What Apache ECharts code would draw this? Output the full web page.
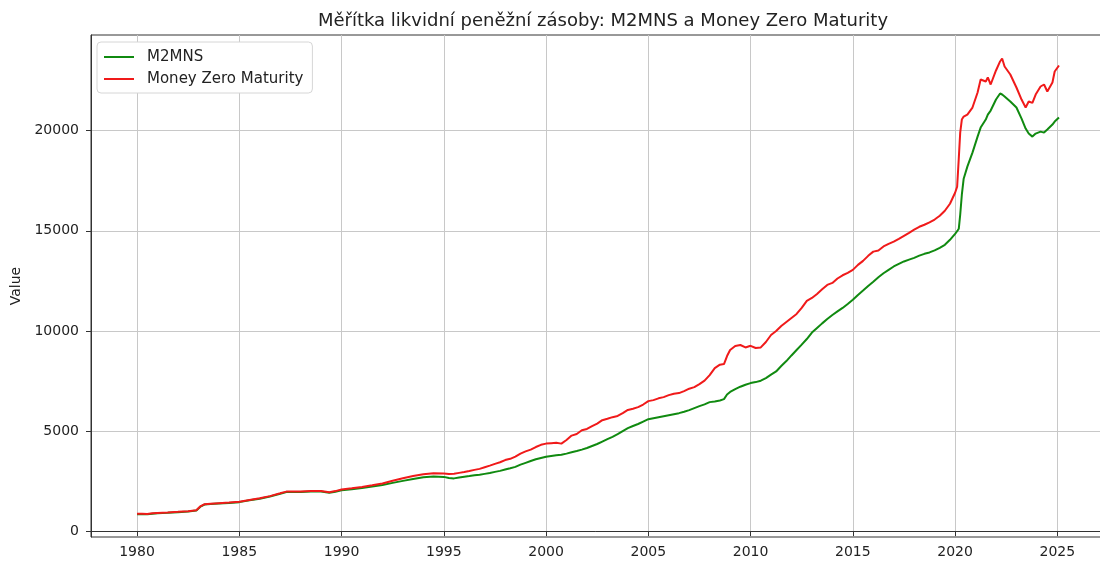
<!DOCTYPE html>
<html>
<head>
<meta charset="utf-8">
<script src="https://cdn.jsdelivr.net/npm/echarts@6/dist/echarts.min.js"></script>
<style>
  html, body { margin: 0; padding: 0; background: #fff; }
  #chart { width: 1100px; height: 564px; }
</style>
</head>
<body>
<div id="chart"></div>
<script>
// decimal years shared by both series
const dates = [
  1980.0, 1980.25, 1980.5, 1980.75, 1981.0, 1981.5, 1982.0, 1982.5, 1982.9, 1983.1,
  1983.3, 1983.6, 1984.0, 1984.5, 1985.0, 1985.5, 1986.0, 1986.5, 1987.0, 1987.3,
  1987.6, 1988.0, 1988.5, 1989.0, 1989.4, 1989.7, 1990.0, 1990.5, 1991.0, 1991.5,
  1992.0, 1992.5, 1993.0, 1993.5, 1994.0, 1994.5, 1995.0, 1995.25, 1995.5, 1995.75,
  1996.0, 1996.25, 1996.5, 1996.75, 1997.0, 1997.25, 1997.5, 1997.75, 1998.0, 1998.25,
  1998.5, 1998.75, 1999.0, 1999.25, 1999.5, 1999.75, 2000.0, 2000.25, 2000.5, 2000.75,
  2001.0, 2001.25, 2001.5, 2001.75, 2002.0, 2002.25, 2002.5, 2002.75, 2003.0, 2003.25,
  2003.5, 2003.75, 2004.0, 2004.25, 2004.5, 2004.75, 2005.0, 2005.25, 2005.5, 2005.75,
  2006.0, 2006.25, 2006.5, 2006.75, 2007.0, 2007.25, 2007.5, 2007.75, 2008.0, 2008.25,
  2008.5, 2008.7, 2008.85, 2009.0, 2009.25, 2009.5, 2009.75, 2010.0, 2010.25, 2010.5,
  2010.75, 2011.0, 2011.25, 2011.5, 2011.75, 2012.0, 2012.25, 2012.5, 2012.75, 2013.0,
  2013.25, 2013.5, 2013.75, 2014.0, 2014.25, 2014.5, 2014.75, 2015.0, 2015.25, 2015.5,
  2015.75, 2016.0, 2016.25, 2016.5, 2016.75, 2017.0, 2017.25, 2017.5, 2017.75, 2018.0,
  2018.25, 2018.5, 2018.75, 2019.0, 2019.25, 2019.5, 2019.75, 2020.0, 2020.1, 2020.18,
  2020.25, 2020.33, 2020.42, 2020.6, 2020.85, 2021.1, 2021.25, 2021.5, 2021.6, 2021.74,
  2022.0, 2022.2, 2022.3, 2022.42, 2022.7, 2023.0, 2023.25, 2023.45, 2023.6, 2023.78,
  2023.94, 2024.18, 2024.35, 2024.51, 2024.76, 2024.87, 2025.08
];

const mzm = [
  880, 875, 865, 900, 920, 945, 975, 1010, 1060, 1250,
  1360, 1385, 1410, 1440, 1480, 1570, 1650, 1760, 1900, 1985,
  1995, 1990, 2010, 2020, 1955, 2010, 2090, 2150, 2220, 2300,
  2390, 2530, 2650, 2760, 2850, 2905, 2885, 2860, 2880, 2920,
  2960, 3010, 3070, 3120, 3200, 3280, 3370, 3450, 3560, 3620,
  3730, 3880, 3990, 4080, 4210, 4320, 4380, 4400, 4420, 4380,
  4560, 4780, 4860, 5050, 5110, 5250, 5380, 5550, 5620, 5700,
  5760, 5900, 6060, 6120, 6200, 6330, 6500, 6550, 6640, 6700,
  6800, 6870, 6900, 7000, 7120, 7200, 7350, 7520, 7800, 8150,
  8320, 8350, 8750, 9050, 9250, 9300, 9180, 9260, 9150, 9180,
  9450, 9800, 10000, 10250, 10450, 10650, 10850, 11150, 11500, 11650,
  11850, 12080, 12300, 12400, 12620, 12780, 12900, 13050, 13300, 13500,
  13750, 13960, 14020, 14220, 14350, 14460, 14600, 14750, 14900, 15060,
  15200, 15300, 15420, 15560, 15750, 16000, 16350, 16900, 17200, 18600,
  19900, 20550, 20700, 20800, 21150, 21900, 22550, 22450, 22650, 22300,
  23000, 23450, 23600, 23200, 22800, 22150, 21550, 21150, 21450, 21380,
  21800, 22200, 22300, 21950, 22400, 22950, 23250
];

const m2 = [
  860, 855, 850, 880, 900, 925, 955, 990, 1040, 1230,
  1340, 1365, 1390, 1420, 1460, 1550, 1630, 1740, 1875, 1960,
  1970, 1965, 1985, 1990, 1925, 1980, 2055, 2105, 2165, 2235,
  2310, 2420, 2520, 2615, 2700, 2745, 2720, 2660, 2645, 2690,
  2725, 2760, 2800, 2830, 2870, 2910, 2970, 3020, 3085, 3150,
  3220, 3330, 3420, 3510, 3600, 3660, 3720, 3760, 3800, 3820,
  3880, 3950, 4010, 4080, 4160, 4260, 4360, 4480, 4600, 4720,
  4850, 5000, 5150, 5260, 5360, 5480, 5600, 5650, 5700, 5750,
  5800, 5850, 5900, 5970, 6050, 6150, 6250, 6340, 6450, 6480,
  6530, 6600, 6830, 6960, 7100, 7220, 7320, 7400, 7450, 7520,
  7650, 7820, 7980, 8250, 8500, 8780, 9050, 9320, 9600, 9920,
  10150, 10380, 10600, 10800, 10980, 11150, 11350, 11560, 11800, 12020,
  12250, 12460, 12680, 12880, 13050, 13220, 13350, 13470, 13560, 13650,
  13760, 13850, 13920, 14020, 14150, 14300, 14550, 14850, 14980, 15100,
  15800, 16800, 17600, 18200, 18900, 19700, 20150, 20550, 20800, 21000,
  21550, 21850, 21800, 21700, 21450, 21150, 20600, 20100, 19850, 19700,
  19850, 19950, 19900, 20050, 20300, 20450, 20650
];

const xTicks = [1980, 1985, 1990, 1995, 2000, 2005, 2010, 2015, 2020, 2025];
const yTicks = [0, 5000, 10000, 15000, 20000];

const chart = echarts.init(document.getElementById('chart'));
const font = 'DejaVu Sans';
const axisColor = '#333';

chart.setOption({
  animation: false,
  backgroundColor: '#fff',
  title: {
    text: 'Měřítka likvidní peněžní zásoby: M2MNS a Money Zero Maturity',
    left: 598,
    textAlign: 'center',
    top: 7,
    textStyle: { fontFamily: font, fontSize: 18, fontWeight: 'normal', color: '#222' }
  },
  legend: {
    orient: 'vertical',
    left: 97,
    top: 42,
    padding: [7, 9, 6, 7],
    backgroundColor: '#fff',
    borderColor: '#d6d6d6',
    borderWidth: 1,
    borderRadius: 4,
    icon: 'rect',
    itemWidth: 30,
    itemHeight: 2,
    itemGap: 6,
    textStyle: { fontFamily: font, fontSize: 15, color: '#222', padding: [0, 0, 0, 8], lineHeight: 16 },
    data: ['M2MNS', 'Money Zero Maturity']
  },
  grid: {
    left: 91, top: 35, width: 1014, height: 502,
    outerBoundsMode: 'none',
    containLabel: false,
    show: true, borderColor: axisColor, borderWidth: 1
  },
  xAxis: {
    type: 'value',
    min: 1977.75,
    max: 2027.33,
    minInterval: 5,
    maxInterval: 5,
    splitNumber: 10,
    axisLine: { show: true, lineStyle: { color: axisColor, width: 1 } },
    axisTick: { show: true, length: 5, customValues: xTicks, lineStyle: { color: axisColor } },
    axisLabel: {
      color: '#222', fontFamily: font, fontSize: 14, margin: 8,
      customValues: xTicks,
      formatter: v => String(v)
    },
    splitLine: { show: true, lineStyle: { color: '#c8c8c8', width: 1 } }
  },
  yAxis: {
    type: 'value',
    min: -280,
    max: 24770,
    minInterval: 5000,
    maxInterval: 5000,
    name: 'Value',
    nameLocation: 'middle',
    nameGap: 66,
    nameTextStyle: { fontFamily: font, fontSize: 14, color: '#222' },
    axisLine: { show: true, lineStyle: { color: axisColor, width: 1 } },
    axisTick: { show: true, length: 5, customValues: yTicks, lineStyle: { color: axisColor } },
    axisLabel: {
      color: '#222', fontFamily: font, fontSize: 14, margin: 12,
      customValues: yTicks,
      formatter: v => String(v)
    },
    splitLine: { show: true, lineStyle: { color: '#c8c8c8', width: 1 } }
  },
  series: [
    {
      name: 'M2MNS',
      type: 'line',
      showSymbol: false,
      symbol: 'none',
      color: '#108a10',
      lineStyle: { width: 2, color: '#108a10' },
      data: dates.map((d, i) => [d, m2[i]])
    },
    {
      name: 'Money Zero Maturity',
      type: 'line',
      showSymbol: false,
      symbol: 'none',
      color: '#f01a1a',
      lineStyle: { width: 2, color: '#f01a1a' },
      data: dates.map((d, i) => [d, mzm[i]])
    }
  ]
});
</script>
</body>
</html>
